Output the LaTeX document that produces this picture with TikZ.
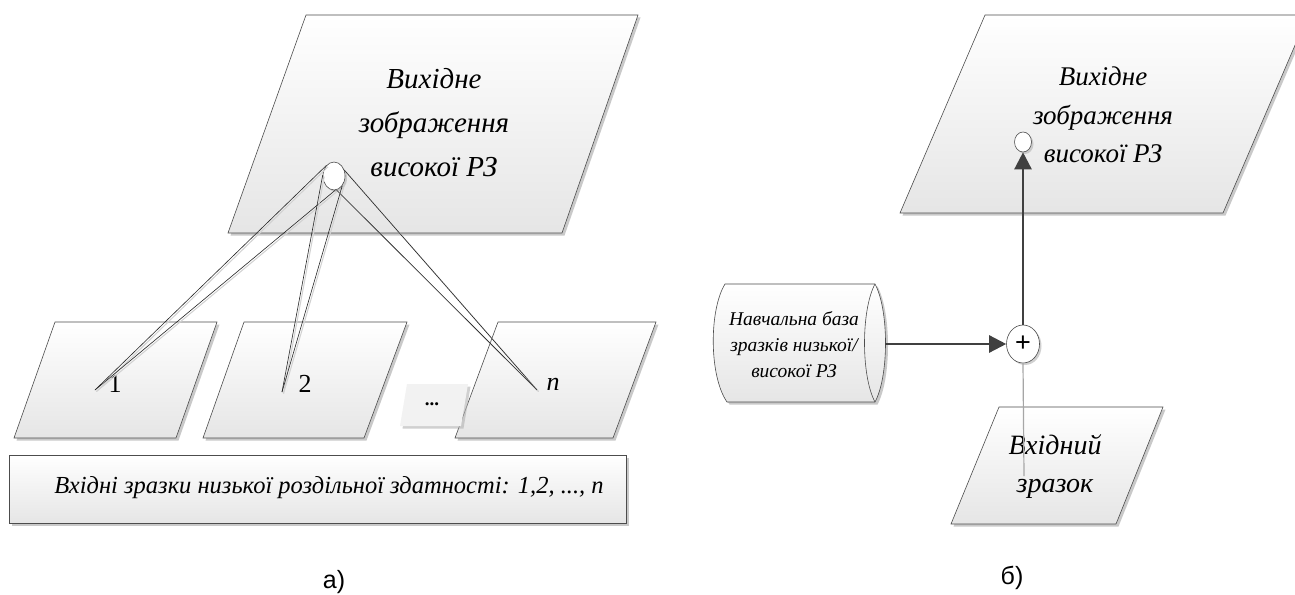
\documentclass[tikz,border=0pt]{standalone}
\usepackage{fontspec}
\setmainfont{Liberation Serif}[ItalicFont={Liberation Serif Italic}, BoldFont={Liberation Serif Bold}]
\newfontfamily\labfont{Liberation Sans}
\usetikzlibrary{shapes.geometric,arrows.meta,shadows}
\tikzset{
  shp/.style={draw=black!70, line width=0.6pt, top color=white, bottom color=black!10,
    drop shadow={shadow xshift=2.5pt, shadow yshift=-2.5pt, fill=black!35, opacity=0.6}},
  dotbox/.style={fill=black!5, drop shadow={shadow xshift=2.5pt, shadow yshift=-2.5pt, fill=black!30, opacity=0.6}},
  bigtxt/.style={font=\itshape\fontsize{29}{44}\selectfont, align=center, inner sep=0pt},
  bigtxtb/.style={font=\itshape\fontsize{27}{38.5}\selectfont, align=center, inner sep=0pt},
  intxt/.style={font=\itshape\fontsize{28}{38}\selectfont, align=center, inner sep=0pt},
  dbtxt/.style={font=\itshape\fontsize{19.5}{26}\selectfont, align=center, inner sep=0pt},
  numtxt/.style={font=\fontsize{26}{26}\selectfont, anchor=base, inner sep=0pt},
  captxt/.style={font=\labfont\fontsize{25}{25}\selectfont, inner sep=0pt},
  ell/.style={ellipse, draw=black!70, line width=0.6pt, fill=white, inner sep=0pt,
    drop shadow={shadow xshift=2pt, shadow yshift=-2pt, fill=black!30, opacity=0.6}},
  conn/.style={draw=black!85, line width=0.6pt,
    preaction={draw=black!18, line width=1pt, transform canvas={xshift=1.5pt, yshift=-1.5pt}}},
  arr/.style={draw=black!75, line width=2.4pt, -{Triangle[length=17pt, width=17pt]}},
  thinln/.style={draw=black!35, line width=1.2pt}
}
\begin{document}
\begin{tikzpicture}[x=1pt, y=-1pt]
\useasboundingbox (0,0) rectangle (1295,594);
\fill[white] (0,0) rectangle (1295,594);

% ---------------- part a ----------------
\path[shp] (306,15) -- (638,15) -- (562,233) -- (228,233) -- cycle;
\node[bigtxt] (outa) at (434,123) {Вихідне\\зображення\\високої РЗ};

\path[shp] (55,322) -- (217,322) -- (176,438) -- (14,438) -- cycle;
\path[shp] (244,322) -- (407,322) -- (364,438) -- (203,438) -- cycle;
\path[shp] (498,322) -- (656,322) -- (613,438) -- (455,438) -- cycle;
\path[dotbox] (407,384) -- (468,384) -- (461,426) -- (400,426) -- cycle;
\node[font=\bfseries\fontsize{19}{19}\selectfont, inner sep=0pt] (dots) at (432,404) {...};

\node[numtxt] (l1) at (115,392) {1};
\node[numtxt] (l2) at (305,392) {2};
\node[numtxt, font=\itshape\fontsize{26}{26}\selectfont] (ln) at (553,390) {n};

\path[shp] (9,455) rectangle (626,523);
\node[font=\itshape\fontsize{24.5}{24.5}\selectfont, anchor=base, inner sep=0pt] (btxt) at (329,493)
  {Вхідні зразки низької роздільної здатності: 1,2, ..., n};

\node[ell, minimum width=22pt, minimum height=28pt] (hub) at (334,176) {};
\coordinate (p1) at (95,390);
\coordinate (p2) at (282,392);
\coordinate (pn) at (537,390);
\draw[conn] (hub.125) -- (p1);
\draw[conn] (hub.-85) -- (p1);
\draw[conn] (hub.175) -- (p2);
\draw[conn] (hub.-50) -- (p2);
\draw[conn] (hub.30) -- (pn);
\draw[conn] (hub.-80) -- (pn);

\node[captxt] (capa) at (334,582) {а)};

% ---------------- part b ----------------
\path[shp] (985,15) -- (1308,15) -- (1223,213) -- (900,213) -- cycle;
\node[bigtxtb] (outb) at (1103,115) {Вихідне\\зображення\\високої РЗ};
\node[ell, minimum width=17pt, minimum height=20pt] (outpt) at (1023,142) {};

\path[shp] (725,284) -- (875,284) .. controls (889,310) and (889,376) .. (875,402)
  -- (727,402) .. controls (709,376) and (709,310) .. (725,284) -- cycle;
\draw[draw=black!70, line width=0.6pt] (875,284) .. controls (861,310) and (861,376) .. (875,402);
\node[dbtxt] (db) at (794,345) {Навчальна база\\зразків низької/\\високої РЗ};
\coordinate (dbE) at (885,344);

\path[shp] (999,407) -- (1163,407) -- (1116,524) -- (951,524) -- cycle;
\node[intxt] (inp) at (1055,467) {Вхідний\\зразок};

\node[ell, minimum width=33pt, minimum height=38pt, font=\labfont\fontsize{27}{27}\selectfont] (plus) at (1023,344) {+};
\coordinate (gin) at (1024,476);

\draw[thinln] (plus.south) -- (gin);
\draw[arr] (dbE) -- (plus.west);
\draw[arr] (plus.north) -- (outpt.south);

\node[captxt] (capb) at (1012,578) {б)};
\end{tikzpicture}
\end{document}
